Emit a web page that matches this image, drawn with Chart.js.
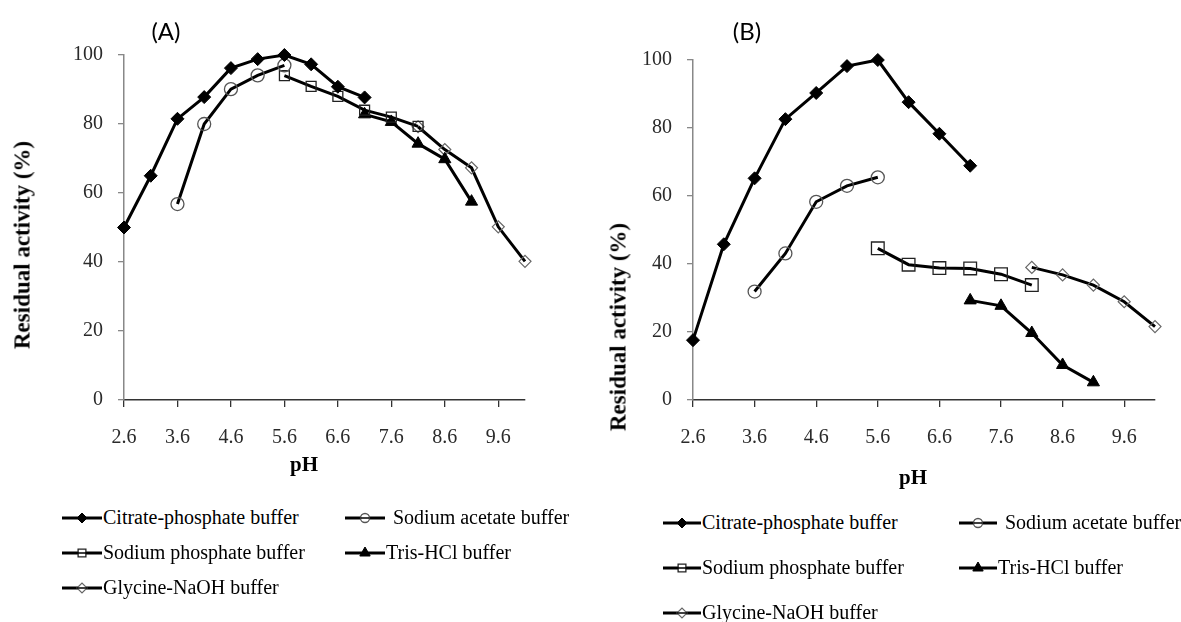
<!DOCTYPE html>
<html>
<head>
<meta charset="utf-8">
<title>Residual activity vs pH</title>
<script src="https://cdn.jsdelivr.net/npm/chart.js@4.4.1/dist/chart.umd.min.js"></script>
<style>
  html, body { margin: 0; padding: 0; background: #fff; }
  body { width: 1181px; height: 622px; position: relative; overflow: hidden;
         font-family: "Liberation Serif", "Times New Roman", serif; color: #000; }
  canvas.plot { position: absolute; top: 0; }
  .panel-tag { position: absolute; font-family: Lato, "Open Sans", sans-serif; font-size: 24px;
               line-height: 1; transform: translate(-50%, -50%); white-space: nowrap; }
  .ytitle { position: absolute; font-weight: bold; font-size: 23px; line-height: 1; white-space: nowrap;
            transform: translate(-50%, -50%) rotate(-90deg); }
  .xtitle { position: absolute; font-weight: bold; font-size: 21px; line-height: 1;
            transform: translate(-50%, -50%); }
  .legend { position: absolute; display: grid; }
  .legend .item { display: flex; align-items: center; font-size: 20px; white-space: nowrap; }
  .legend .item canvas { display: block; margin-right: 1px; }
</style>
</head>
<body>

<canvas id="chartA" class="plot" width="590" height="470" style="left:0px"></canvas>
<canvas id="chartB" class="plot" width="591" height="470" style="left:590px"></canvas>

<div class="panel-tag" style="left:166px; top:31px">(A)</div>
<div class="panel-tag" style="left:747px; top:31px">(B)</div>

<div class="ytitle" style="left:22px; top:245px">Residual activity (%)</div>
<div class="ytitle" style="left:618px; top:327px">Residual activity (%)</div>

<div class="xtitle" style="left:304px; top:464px">pH</div>
<div class="xtitle" style="left:913px; top:477px">pH</div>

<div id="legendA" class="legend" style="left:62px; top:500px; grid-template-columns:283px auto; grid-auto-rows:35px"></div>
<div id="legendB" class="legend" style="left:663px; top:500px; grid-template-columns:296px auto; grid-auto-rows:45px"></div>

<script>
// pH of each buffer sample (0.5 steps)
const phLevels = [2.6, 3.1, 3.6, 4.1, 4.6, 5.1, 5.6, 6.1, 6.6, 7.1, 7.6, 8.1, 8.6, 9.1, 9.6, 10.1];
const xTickLabels = ['2.6', '3.6', '4.6', '5.6', '6.6', '7.6', '8.6', '9.6'];
const yTickStep = 20;

const bufferNames = [
  'Citrate-phosphate buffer',
  'Sodium acetate buffer',
  'Sodium phosphate buffer',
  'Tris-HCl buffer',
  'Glycine-NaOH buffer'
];

// (A) residual activity (%), one entry per pH level, null where the buffer was not used
const citrateA   = [50.0, 65.0, 81.5, 87.8, 96.2, 98.8, 100, 97.3, 90.8, 87.7, null, null, null, null, null, null];
const acetateA   = [null, null, 56.8, 80.0, 90.1, 94.1, 97.0, null, null, null, null, null, null, null, null, null];
const phosphateA = [null, null, null, null, null, null, 94.0, 90.9, 88.0, 84.0, 82.0, 79.3, null, null, null, null];
const trisA      = [null, null, null, null, null, null, null, null, null, 82.8, 80.6, 74.3, 69.8, 57.5, null, null];
const glycineA   = [null, null, null, null, null, null, null, null, null, null, null, 79.2, 72.6, 67.3, 50.2, 40.2];

// (B) residual activity (%)
const citrateB   = [17.6, 45.8, 65.2, 82.6, 90.3, 98.2, 100, 87.6, 78.3, 68.9, null, null, null, null, null, null];
const acetateB   = [null, null, 31.9, 43.1, 58.3, 63.0, 65.5, null, null, null, null, null, null, null, null, null];
const phosphateB = [null, null, null, null, null, null, 44.6, 39.8, 38.8, 38.7, 37.0, 33.8, null, null, null, null];
const trisB      = [null, null, null, null, null, null, null, null, null, 29.3, 27.7, 19.7, 10.3, 5.2, null, null];
const glycineB   = [null, null, null, null, null, null, null, null, null, null, null, 39.0, 36.8, 33.8, 28.9, 21.6];

// marker look for each buffer
const markers = [
  { pointStyle: 'rectRot',  radius: 6.5, legendRadius: 5,   fill: '#000',          stroke: '#000', width: 1 },
  { pointStyle: 'circle',   radius: 6.5, legendRadius: 4.5, fill: 'rgba(0,0,0,0)', stroke: '#555', width: 1.3 },
  { pointStyle: 'rect',     radius: 7,   legendRadius: 5.5, fill: 'rgba(0,0,0,0)', stroke: '#222', width: 1.3 },
  { pointStyle: 'triangle', radius: 7,   legendRadius: 6,   fill: '#000',          stroke: '#000', width: 1 },
  { pointStyle: 'rectRot',  radius: 6,   legendRadius: 5,   fill: 'rgba(0,0,0,0)', stroke: '#666', width: 1.2 }
];

function makeDatasets(seriesList, sizeScale) {
  return seriesList.map((values, i) => {
    const m = markers[i];
    const r = m.radius * (sizeScale[i] || 1);
    return {
      label: bufferNames[i],
      data: phLevels.map((x, j) => ({ x: x, y: values[j] })).filter(p => p.y !== null),
      borderColor: '#000',
      borderWidth: 3,
      tension: 0,
      fill: false,
      clip: false,
      pointStyle: m.pointStyle,
      pointRadius: r,
      pointHoverRadius: r,
      pointBackgroundColor: m.fill,
      pointBorderColor: m.stroke,
      pointBorderWidth: m.width
    };
  });
}

const tickFont = { family: 'Liberation Serif', size: 20 };

function buildChart(canvasId, datasets, frame) {
  return new Chart(document.getElementById(canvasId), {
    type: 'line',
    data: { datasets: datasets },
    options: {
      responsive: false,
      animation: false,
      devicePixelRatio: 1,
      events: [],
      layout: { padding: { top: frame.top, right: frame.right, bottom: 0, left: 0 } },
      plugins: { legend: { display: false }, tooltip: { enabled: false } },
      scales: {
        x: {
          type: 'linear',
          min: phLevels[0],
          max: phLevels[phLevels.length - 1],
          afterBuildTicks: scale => { scale.ticks = xTickLabels.map(t => ({ value: parseFloat(t) })); },
          afterFit: scale => { scale.height = frame.xHeight; },
          ticks: {
            autoSkip: false, maxRotation: 0, padding: 19,
            font: tickFont, color: '#2a2a2a',
            callback: (value, index) => xTickLabels[index]
          },
          grid: { drawOnChartArea: false, drawTicks: true, tickLength: 7, color: '#333', lineWidth: 1.3 },
          border: { color: '#333', width: 1.5 }
        },
        y: {
          min: 0,
          max: 100,
          afterFit: scale => { scale.width = frame.yWidth; },
          ticks: { stepSize: yTickStep, padding: 15, font: tickFont, color: '#2a2a2a' },
          grid: { drawOnChartArea: false, drawTicks: true, tickLength: 6, color: '#888', lineWidth: 1.3 },
          border: { color: '#888', width: 1.5 }
        }
      }
    }
  });
}

// legend rows: line with the buffer's marker, then its name
function buildLegend(containerId, chart, glyphWidth) {
  const box = document.getElementById(containerId);
  chart.data.datasets.forEach((ds, i) => {
    const m = markers[i];
    const item = document.createElement('div');
    item.className = 'item';
    const cv = document.createElement('canvas');
    cv.width = glyphWidth; cv.height = 20;
    const ctx = cv.getContext('2d');
    ctx.strokeStyle = '#000';
    ctx.lineWidth = 3;
    ctx.beginPath(); ctx.moveTo(0, 10); ctx.lineTo(glyphWidth, 10); ctx.stroke();
    ctx.fillStyle = m.fill === 'rgba(0,0,0,0)' ? '#fff' : m.fill;
    ctx.strokeStyle = m.stroke;
    ctx.lineWidth = m.width;
    Chart.helpers.drawPoint(ctx, { pointStyle: m.pointStyle, radius: m.legendRadius, rotation: 0, borderWidth: m.width }, glyphWidth / 2, 10);
    if (m.fill === 'rgba(0,0,0,0)') {
      // open markers show the line running through them
      ctx.strokeStyle = '#000'; ctx.lineWidth = 1.5;
      ctx.beginPath(); ctx.moveTo(glyphWidth / 2 - m.legendRadius, 10); ctx.lineTo(glyphWidth / 2 + m.legendRadius, 10); ctx.stroke();
    }
    item.appendChild(cv);
    const span = document.createElement('span');
    span.textContent = ds.label;
    if (i === 1) span.style.marginLeft = '7px';
    item.appendChild(span);
    box.appendChild(item);
  });
}

const chartA = buildChart('chartA',
  makeDatasets([citrateA, acetateA, phosphateA, trisA, glycineA], [1, 1, 1, 1, 1]),
  { top: 55, right: 65, yWidth: 124, xHeight: 70 });

const chartB = buildChart('chartB',
  makeDatasets([citrateB, acetateB, phosphateB, trisB, glycineB], [1, 1, 1.28, 1, 1]),
  { top: 60, right: 26, yWidth: 103, xHeight: 70 });

buildLegend('legendA', chartA, 40);
buildLegend('legendB', chartB, 38);
</script>
</body>
</html>
